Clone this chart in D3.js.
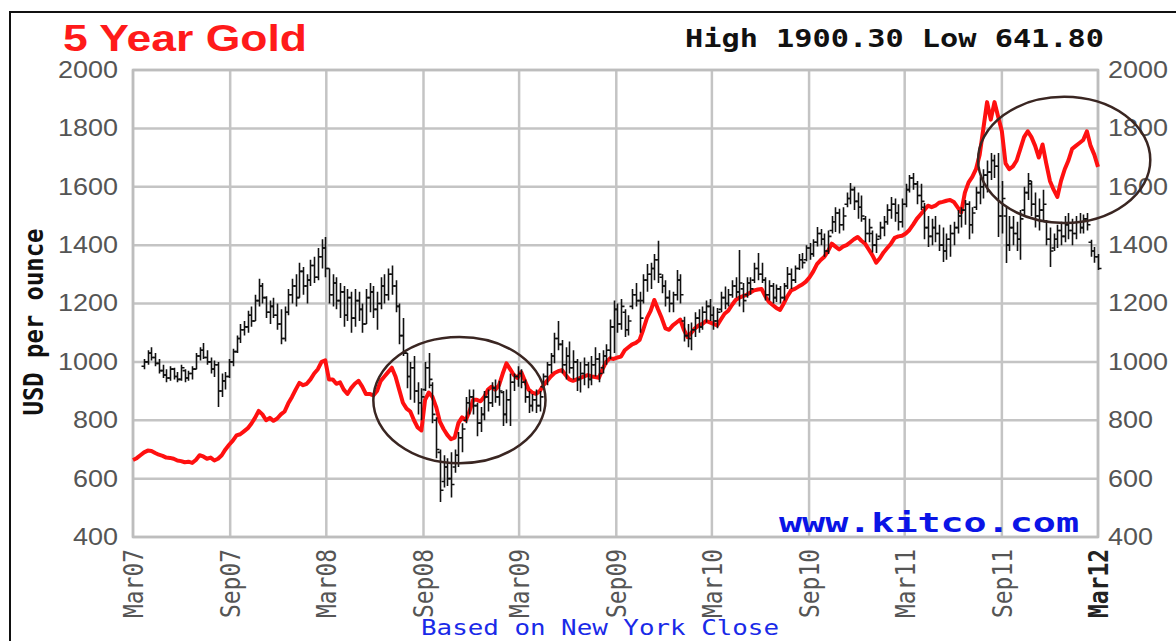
<!DOCTYPE html>
<html>
<head>
<meta charset="utf-8">
<script src="https://cdn.jsdelivr.net/npm/d3@7"></script>
<style>
body {margin: 0; background: #fff;}
svg {display: block;}
</style>
</head>
<body>
<svg id="chart" width="1176" height="641"></svg>
<script>

var startDate = new Date(2007, 2, 1);
var endDate = new Date(2012, 2, 1);

var tickLabels = ["Mar07", "Sep07", "Mar08", "Sep08", "Mar09", "Sep09", "Mar10", "Sep10", "Mar11", "Sep11", "Mar12"];
var tickDates = [new Date(2007, 2, 1), new Date(2007, 8, 1), new Date(2008, 2, 1), new Date(2008, 8, 1),
	new Date(2009, 2, 1), new Date(2009, 8, 1), new Date(2010, 2, 1), new Date(2010, 8, 1),
	new Date(2011, 2, 1), new Date(2011, 8, 1), new Date(2012, 2, 1)];
var yTicks = [400, 600, 800, 1000, 1200, 1400, 1600, 1800, 2000];

// red line, weekly close
var goldClose = [
	664,670,680,690,696,695,688,682,678,672,
	671,668,662,660,656,658,654,664,680,676,
	668,672,662,668,680,700,716,730,748,752,
	762,772,788,808,832,820,800,808,798,806,
	820,830,858,880,905,928,920,925,940,960,
	975,1000,1005,940,940,925,930,905,890,910,
	925,935,915,890,890,885,900,935,950,965,
	980,950,905,860,840,830,800,775,765,870,
	895,880,845,795,770,750,735,740,790,810,
	800,830,870,870,865,880,905,915,905,920,
	960,995,975,955,945,965,935,905,895,890,
	900,920,935,950,962,968,972,955,940,935,
	940,945,950,955,950,948,945,975,1000,1012,
	1010,1015,1018,1040,1050,1060,1065,1075,1110,1150,
	1175,1212,1180,1150,1115,1110,1125,1135,1145,1110,
	1085,1100,1115,1125,1130,1140,1135,1130,1125,1145,
	1165,1175,1195,1212,1220,1225,1230,1238,1245,1248,
	1250,1225,1205,1195,1185,1178,1200,1225,1245,1250,
	1258,1265,1275,1290,1310,1335,1349,1360,1380,1405,
	1395,1385,1395,1400,1410,1420,1428,1415,1405,1385,
	1365,1340,1355,1375,1390,1405,1425,1430,1432,1440,
	1452,1470,1490,1505,1520,1535,1530,1535,1545,1548,
	1552,1555,1548,1530,1512,1580,1615,1634,1660,1710,
	1800,1890,1830,1890,1840,1790,1680,1660,1670,1690,
	1730,1770,1790,1770,1740,1700,1745,1680,1620,1590,
	1565,1620,1660,1690,1730,1740,1750,1760,1790,1740,
	1710,1668];

// black weekly bars
var barHigh = [
	null,null,null,1010,1040,1050,1030,1010,990,975,
	985,980,965,990,975,970,985,1030,1050,1065,
	1040,1015,1005,1000,960,965,1010,1045,1090,1130,
	1140,1175,1190,1230,1285,1270,1225,1210,1220,1200,
	1180,1190,1250,1285,1300,1340,1325,1300,1350,1360,
	1390,1420,1428,1320,1300,1290,1270,1260,1250,1240,
	1250,1240,1200,1250,1270,1260,1240,1290,1300,1320,
	1330,1280,1200,1150,1030,1000,1020,930,910,1000,
	1030,930,810,700,680,670,690,700,760,790,
	880,905,905,860,845,900,905,930,940,935,
	900,905,960,960,985,975,940,900,890,905,
	900,960,1000,1030,1100,1140,1075,1050,1070,1040,
	1010,1000,1015,1000,1020,1050,1030,1040,1060,1145,
	1210,1200,1215,1180,1160,1250,1270,1240,1300,1335,
	1340,1370,1415,1300,1280,1245,1240,1315,1300,1155,
	1130,1135,1170,1180,1190,1210,1215,1190,1185,1240,
	1258,1250,1280,1290,1383,1270,1290,1290,1340,1373,
	1340,1290,1280,1270,1265,1260,1270,1325,1320,1330,
	1370,1373,1400,1407,1420,1462,1455,1440,1450,1500,
	1530,1525,1530,1580,1613,1600,1580,1570,1500,1490,
	1450,1440,1480,1500,1540,1565,1560,1540,1560,1610,
	1640,1647,1620,1610,1544,1500,1490,1500,1470,1460,
	1440,1470,1480,1520,1530,1555,1550,1530,1600,1634,
	1660,1690,1716,1710,1716,1620,1531,1500,1500,1480,
	1520,1600,1647,1620,1580,1560,1590,1486,1460,1440,
	1470,1480,1500,1510,1490,1500,1510,1505,1510,1418,
	1394,1370];
var barLow = [
	null,null,null,975,990,1005,985,960,945,930,
	935,940,930,935,930,935,940,975,1005,1010,
	990,960,948,845,880,905,945,985,1030,1065,
	1090,1100,1120,1140,1190,1200,1150,1130,1150,1110,
	1060,1070,1160,1200,1190,1220,1230,1200,1260,1270,
	1280,1320,1290,1200,1190,1180,1150,1120,1140,1100,
	1120,1140,1100,1130,1170,1150,1110,1180,1200,1210,
	1230,1170,1060,1020,910,870,860,820,800,900,
	910,790,670,520,570,575,535,620,640,690,
	790,820,820,745,760,800,830,845,860,850,
	780,790,780,900,915,910,860,825,830,825,
	830,910,920,960,995,1040,960,940,960,940,
	900,895,920,910,920,950,930,960,990,1010,
	1030,1100,1110,1085,1090,1180,1190,1100,1200,1240,
	1250,1280,1270,1235,1190,1170,1170,1210,1200,1070,
	1050,1040,1085,1100,1110,1135,1140,1110,1115,1170,
	1180,1190,1220,1220,1190,1170,1220,1230,1270,1280,
	1270,1210,1210,1200,1205,1200,1210,1250,1250,1270,
	1315,1320,1345,1350,1360,1395,1400,1360,1370,1440,
	1445,1440,1450,1530,1540,1520,1490,1480,1410,1410,
	1375,1373,1420,1430,1470,1490,1480,1450,1460,1530,
	1580,1590,1540,1520,1420,1394,1400,1410,1380,1342,
	1350,1360,1400,1440,1460,1470,1420,1440,1520,1540,
	1560,1580,1623,1630,1428,1440,1339,1380,1400,1380,
	1350,1500,1555,1500,1460,1450,1480,1400,1325,1380,
	1390,1400,1410,1420,1400,1420,1440,1440,1450,1360,
	1340,1315];
var barOpen = [
	null,null,null,985,1000,1030,1015,995,970,955,
	945,975,950,940,970,945,960,975,1020,1040,
	1015,1000,975,990,900,935,950,1000,1035,1080,
	1110,1120,1160,1140,1210,1260,1220,1170,1190,1160,
	1130,1080,1170,1230,1260,1220,1310,1260,1280,1330,
	1290,1360,1390,1320,1230,1270,1210,1240,1160,1220,
	1150,1210,1180,1130,1220,1240,1180,1200,1260,1230,
	1300,1260,1190,1090,1030,950,980,900,860,905,
	980,920,800,690,590,640,600,640,680,740,
	800,860,880,850,790,820,880,860,910,880,
	895,820,870,930,950,960,930,880,850,870,
	850,915,950,990,1020,1080,1060,990,1020,980,
	1000,940,960,990,940,990,1010,980,1020,1040,
	1120,1180,1130,1170,1110,1190,1230,1210,1210,1280,
	1300,1320,1350,1290,1260,1220,1200,1230,1280,1140,
	1090,1080,1110,1150,1120,1170,1190,1160,1140,1180,
	1220,1200,1230,1260,1240,1250,1230,1270,1280,1320,
	1300,1280,1230,1260,1220,1250,1220,1260,1300,1280,
	1320,1350,1350,1390,1370,1410,1440,1420,1380,1450,
	1480,1510,1470,1540,1560,1590,1550,1530,1490,1440,
	1440,1400,1430,1460,1480,1520,1540,1510,1480,1540,
	1590,1630,1610,1570,1530,1460,1430,1460,1440,1400,
	1380,1420,1440,1460,1500,1520,1540,1470,1530,1580,
	1600,1640,1650,1690,1670,1500,1500,1400,1460,1440,
	1420,1520,1580,1610,1540,1500,1520,1480,1420,1390,
	1420,1450,1430,1470,1450,1440,1480,1460,1490,1410,
	1380,1360];
var barClose = [
	null,null,null,1000,1030,1015,995,970,955,945,
	975,950,940,980,945,960,975,1020,1040,1015,
	1000,975,990,900,935,950,1000,1035,1080,1110,
	1120,1160,1140,1210,1260,1220,1170,1190,1160,1130,
	1080,1170,1230,1260,1220,1310,1260,1280,1330,1290,
	1360,1390,1320,1230,1270,1210,1240,1160,1220,1150,
	1210,1180,1130,1220,1240,1180,1200,1260,1230,1300,
	1260,1190,1090,1030,950,980,900,860,880,980,
	940,820,700,560,640,600,580,680,740,770,
	860,880,850,790,820,880,860,910,880,900,
	820,870,930,950,960,930,880,850,870,850,
	880,950,990,1020,1080,1060,990,1020,980,1000,
	940,960,990,940,990,1010,960,1020,1040,1120,
	1180,1130,1190,1110,1140,1230,1210,1150,1280,1300,
	1320,1350,1300,1260,1220,1200,1230,1280,1230,1090,
	1080,1110,1150,1120,1170,1190,1160,1140,1170,1220,
	1200,1230,1260,1240,1270,1210,1270,1250,1320,1300,
	1280,1230,1260,1220,1250,1220,1260,1300,1280,1320,
	1350,1340,1390,1370,1410,1440,1420,1380,1430,1480,
	1510,1470,1500,1560,1590,1550,1530,1500,1440,1460,
	1400,1420,1460,1480,1520,1540,1510,1480,1540,1590,
	1630,1610,1570,1550,1460,1430,1460,1440,1400,1380,
	1420,1440,1460,1500,1520,1540,1470,1510,1580,1600,
	1640,1650,1690,1670,1500,1560,1400,1460,1440,1420,
	1490,1580,1620,1540,1500,1520,1540,1420,1380,1420,
	1450,1430,1470,1450,1440,1480,1460,1490,1470,1380,
	1360,1320];

// hand drawn circles: centre date / price, half width in days, half height in USD
var circles = [
	{date: new Date(2008, 10, 8), price: 869, days: 163, usd: 216},
	{date: new Date(2011, 11, 28), price: 1692, days: 163, usd: 216}
];

var svg = d3.select("#chart");
// (window.top is read-only, so no plain "top" here)
var plotLeft = 133, plotRight = 1098, plotTop = 70, plotBottom = 537;

var x = d3.scaleTime().domain([startDate, endDate]).range([plotLeft, plotRight]);
var y = d3.scaleLinear().domain([400, 2000]).range([plotBottom, plotTop]);

var weeks = goldClose.map(function(d, i) { return d3.timeDay.offset(startDate, 7 * i); });

// page frame of the document
svg.append("line").attr("x1", 10).attr("x2", 1176).attr("y1", 12).attr("y2", 12)
	.attr("stroke", "#111").attr("stroke-width", 2);
svg.append("line").attr("x1", 10).attr("x2", 10).attr("y1", 11).attr("y2", 641)
	.attr("stroke", "#111").attr("stroke-width", 2);

// grid
svg.selectAll("line.hgrid")
	.data(yTicks)
	.enter()
	.append("line")
	.attr("class", "hgrid")
	.attr("x1", plotLeft).attr("x2", plotRight)
	.attr("y1", function(d) { return y(d); })
	.attr("y2", function(d) { return y(d); })
	.attr("stroke", "#c4c4c4").attr("stroke-width", 2.5);

svg.selectAll("line.vgrid")
	.data(tickDates)
	.enter()
	.append("line")
	.attr("class", "vgrid")
	.attr("y1", plotTop).attr("y2", plotBottom)
	.attr("x1", function(d) { return x(d); })
	.attr("x2", function(d) { return x(d); })
	.attr("stroke", "#c4c4c4").attr("stroke-width", 2.5);

svg.append("rect")
	.attr("x", plotLeft).attr("y", plotTop)
	.attr("width", plotRight - plotLeft).attr("height", plotBottom - plotTop)
	.attr("fill", "none").attr("stroke", "#bdbdbd").attr("stroke-width", 2.5);

// y axes
var leftAxis = svg.append("g")
	.attr("transform", "translate(" + plotLeft + ",0)")
	.call(d3.axisLeft(y).tickValues(yTicks).tickFormat(d3.format("d")).tickSize(0).tickPadding(15));
var rightAxis = svg.append("g")
	.attr("transform", "translate(" + plotRight + ",0)")
	.call(d3.axisRight(y).tickValues(yTicks).tickFormat(d3.format("d")).tickSize(0).tickPadding(10));

[leftAxis, rightAxis].forEach(function(g) {
	g.select(".domain").remove();
	g.selectAll("text")
		.attr("font-family", "'Liberation Sans', Arial, sans-serif")
		.attr("font-size", 23)
		.attr("fill", "#555")
		.attr("textLength", function(d) { return d < 1000 ? 45 : 60; })
		.attr("lengthAdjust", "spacingAndGlyphs");
});

// x labels
svg.selectAll("text.xlab")
	.data(tickDates)
	.enter()
	.append("text")
	.attr("class", "xlab")
	.attr("transform", function(d) { return "translate(" + x(d) + ",549) scale(1.3,1) rotate(-90)"; })
	.attr("text-anchor", "end")
	.attr("dy", "0.36em")
	.attr("font-family", "'DejaVu Sans Mono', monospace")
	.attr("font-size", 21)
	.attr("font-weight", function(d, i) { return i == tickLabels.length - 1 ? "bold" : "normal"; })
	.attr("fill", function(d, i) { return i == tickLabels.length - 1 ? "#222" : "#555"; })
	.attr("textLength", 69)
	.attr("lengthAdjust", "spacingAndGlyphs")
	.text(function(d, i) { return tickLabels[i]; });

// red line
var goldLine = d3.line()
	.x(function(d, i) { return x(weeks[i]); })
	.y(function(d) { return y(d); });

svg.append("path")
	.datum(goldClose)
	.attr("d", goldLine)
	.attr("fill", "none")
	.attr("stroke", "#ff1010")
	.attr("stroke-width", 4)
	.attr("stroke-linejoin", "round");

// black bars
var bars = d3.range(goldClose.length).filter(function(i) { return barHigh[i] != null; });
svg.selectAll("path.bar")
	.data(bars)
	.enter()
	.append("path")
	.attr("class", "bar")
	.attr("d", function(i) {
		var bx = Math.round(x(weeks[i])) + 0.5;
		return "M" + bx + "," + y(barHigh[i]) + "V" + y(barLow[i]) +
			"M" + (bx - 3) + "," + y(barOpen[i]) + "H" + bx +
			"M" + bx + "," + y(barClose[i]) + "H" + (bx + 3);
	})
	.attr("fill", "none")
	.attr("stroke", "#111")
	.attr("stroke-width", 1.6);

// circles
svg.selectAll("ellipse")
	.data(circles)
	.enter()
	.append("ellipse")
	.attr("cx", function(d) { return x(d.date); })
	.attr("cy", function(d) { return y(d.price); })
	.attr("rx", function(d) { return x(d3.timeDay.offset(d.date, d.days)) - x(d.date); })
	.attr("ry", function(d) { return y(d.price - d.usd) - y(d.price); })
	.attr("fill", "none")
	.attr("stroke", "#3a2622")
	.attr("stroke-width", 2.5);

// titles
svg.append("text")
	.attr("x", 63).attr("y", 51)
	.attr("font-family", "'Liberation Sans', Arial, sans-serif")
	.attr("font-weight", "bold")
	.attr("font-size", 37)
	.attr("fill", "#ff1a1a")
	.attr("textLength", 244)
	.attr("lengthAdjust", "spacingAndGlyphs")
	.text("5 Year Gold");

svg.append("text")
	.attr("x", 685).attr("y", 47)
	.attr("font-family", "'DejaVu Sans Mono', monospace")
	.attr("font-weight", "bold")
	.attr("font-size", 24)
	.attr("fill", "#111")
	.attr("textLength", 419)
	.attr("lengthAdjust", "spacingAndGlyphs")
	.text("High 1900.30 Low 641.80");

svg.append("text")
	.attr("transform", "translate(43,322) scale(1.2,1) rotate(-90)")
	.attr("text-anchor", "middle")
	.attr("font-family", "'DejaVu Sans Mono', monospace")
	.attr("font-weight", "bold")
	.attr("font-size", 22)
	.attr("fill", "#111")
	.attr("textLength", 187)
	.attr("lengthAdjust", "spacingAndGlyphs")
	.text("USD per ounce");

svg.append("text")
	.attr("x", 779).attr("y", 532)
	.attr("font-family", "'DejaVu Sans Mono', monospace")
	.attr("font-weight", "bold")
	.attr("font-size", 27)
	.attr("fill", "#0a14e6")
	.attr("textLength", 300)
	.attr("lengthAdjust", "spacingAndGlyphs")
	.text("www.kitco.com");

svg.append("text")
	.attr("x", 421).attr("y", 635)
	.attr("font-family", "'DejaVu Sans Mono', monospace")
	.attr("font-size", 21)
	.attr("fill", "#1a2ae8")
	.attr("textLength", 358)
	.attr("lengthAdjust", "spacingAndGlyphs")
	.text("Based on New York Close");

</script>
</body>
</html>
